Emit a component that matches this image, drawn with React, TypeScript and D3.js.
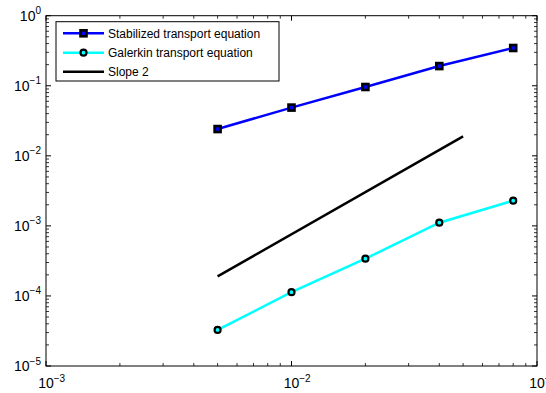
import React from "react";
import * as d3 from "d3";

const hValues = [0.005, 0.01, 0.02, 0.04, 0.08];
const stabilizedErr = [0.0241, 0.0488, 0.096, 0.191, 0.346];
const galerkinErr = [3.27e-5, 1.13e-4, 3.4e-4, 1.11e-3, 2.29e-3];
const slopeH = [0.005, 0.05];
const slopeErr = [1.9e-4, 1.9e-2];
const xTickExps = [-3, -2, -1];
const yTickExps = [0, -1, -2, -3, -4, -5];
const legendLabels = ["Stabilized transport equation", "Galerkin transport equation", "Slope 2"];

const W = 546;
const H = 393;
const L = 46, R = 537, T = 15.7, B = 366;
const FONT = "'Liberation Sans', Arial, Helvetica, sans-serif";

export default function App() {
  const x = d3.scaleLog().domain([1e-3, 1e-1]).range([L, R]);
  const y = d3.scaleLog().domain([1e-5, 1]).range([B, T]);
  const line = d3
    .line<[number, number]>()
    .x((d) => x(d[0]))
    .y((d) => y(d[1]));

  const stab: [number, number][] = hValues.map((h, i) => [h, stabilizedErr[i]]);
  const gal: [number, number][] = hValues.map((h, i) => [h, galerkinErr[i]]);
  const slope: [number, number][] = slopeH.map((h, i) => [h, slopeErr[i]]);

  const majorLen = 5;
  const minorLen = 3;

  const xMinor: number[] = [];
  for (let e = -3; e < -1; e++) for (let m = 2; m <= 9; m++) xMinor.push(m * Math.pow(10, e));
  const yMinor: number[] = [];
  for (let e = -5; e < 0; e++) for (let m = 2; m <= 9; m++) yMinor.push(m * Math.pow(10, e));

  const ticks: JSX.Element[] = [];
  xTickExps.forEach((e, i) => {
    const px = x(Math.pow(10, e));
    ticks.push(<line key={"xt" + i} x1={px} x2={px} y1={B} y2={B - majorLen} stroke="#000" strokeWidth={1} />);
    ticks.push(<line key={"xtt" + i} x1={px} x2={px} y1={T} y2={T + majorLen} stroke="#000" strokeWidth={1} />);
  });
  xMinor.forEach((v, i) => {
    const px = x(v);
    ticks.push(<line key={"xm" + i} x1={px} x2={px} y1={B} y2={B - minorLen} stroke="#000" strokeWidth={0.8} />);
    ticks.push(<line key={"xmt" + i} x1={px} x2={px} y1={T} y2={T + minorLen} stroke="#000" strokeWidth={0.8} />);
  });
  yTickExps.forEach((e, i) => {
    const py = y(Math.pow(10, e));
    ticks.push(<line key={"yt" + i} x1={L} x2={L + majorLen} y1={py} y2={py} stroke="#000" strokeWidth={1} />);
    ticks.push(<line key={"ytr" + i} x1={R} x2={R - majorLen} y1={py} y2={py} stroke="#000" strokeWidth={1} />);
  });
  yMinor.forEach((v, i) => {
    const py = y(v);
    ticks.push(<line key={"ym" + i} x1={L} x2={L + minorLen} y1={py} y2={py} stroke="#000" strokeWidth={0.8} />);
    ticks.push(<line key={"ymr" + i} x1={R} x2={R - minorLen} y1={py} y2={py} stroke="#000" strokeWidth={0.8} />);
  });

  const baseFs = 14;
  const supFs = 10;
  const tenW = baseFs * 1.112;

  const legX = 56, legY = 21.7, legW = 223, legH = 59.3;
  const rowY = [33.3, 52.7, 71.7];
  const lx1 = 63, lx2 = 104, ltx = 108;
  const lmx = (lx1 + lx2) / 2;
  const lw = 2.5;
  const sq = 3;
  const cr = 3;

  return (
    <svg width={W} height={H} style={{ position: "absolute", left: 0, top: 0, background: "#fff" }} fontFamily={FONT}>
      <rect x={0} y={0} width={W} height={H} fill="#fff" />
      <rect x={L} y={T} width={R - L} height={B - T} fill="#fff" />
      {ticks}
      {/* data */}
      <path d={line(slope) || ""} fill="none" stroke="#000" strokeWidth={lw} />
      <path d={line(gal) || ""} fill="none" stroke="#00FFFF" strokeWidth={lw} />
      {gal.map((d, i) => (
        <circle key={"gc" + i} cx={x(d[0])} cy={y(d[1])} r={cr} fill="#00FFFF" stroke="#000" strokeWidth={2.2} />
      ))}
      <path d={line(stab) || ""} fill="none" stroke="#0000FF" strokeWidth={lw} />
      {stab.map((d, i) => (
        <rect key={"sq" + i} x={x(d[0]) - sq} y={y(d[1]) - sq} width={2 * sq} height={2 * sq} fill="#0000FF" stroke="#000" strokeWidth={2.6} />
      ))}
      {/* axes box */}
      <rect x={L} y={T} width={R - L} height={B - T} fill="none" stroke="#000" strokeWidth={1} />
      {/* tick labels */}
      {xTickExps.map((e, i) => (
        <text key={"xl" + i} x={x(Math.pow(10, e)) - tenW / 2} y={388} fontSize={baseFs} fill="#000">
          10
          <tspan dy={-6.5} fontSize={supFs}>{"\u2212" + Math.abs(e)}</tspan>
        </text>
      ))}
      {yTickExps.map((e, i) => (
        <text key={"yl" + i} x={41} y={y(Math.pow(10, e)) + 5} fontSize={baseFs} fill="#000" textAnchor="end">
          10
          <tspan dy={-6.5} fontSize={supFs}>{e === 0 ? "0" : "\u2212" + Math.abs(e)}</tspan>
        </text>
      ))}
      {/* legend */}
      <rect x={legX} y={legY} width={legW} height={legH} fill="#fff" stroke="#000" strokeWidth={1} />
      <line x1={lx1} x2={lx2} y1={rowY[0]} y2={rowY[0]} stroke="#0000FF" strokeWidth={lw} />
      <rect x={lmx - sq} y={rowY[0] - sq} width={2 * sq} height={2 * sq} fill="#0000FF" stroke="#000" strokeWidth={2.6} />
      <line x1={lx1} x2={lx2} y1={rowY[1]} y2={rowY[1]} stroke="#00FFFF" strokeWidth={lw} />
      <circle cx={lmx} cy={rowY[1]} r={cr} fill="#00FFFF" stroke="#000" strokeWidth={2.2} />
      <line x1={lx1} x2={lx2} y1={rowY[2]} y2={rowY[2]} stroke="#000" strokeWidth={lw} />
      {legendLabels.map((t, i) => (
        <text key={"lg" + i} x={ltx} y={rowY[i] + 4.2} fontSize={12} fill="#000">
          {t}
        </text>
      ))}
    </svg>
  );
}
